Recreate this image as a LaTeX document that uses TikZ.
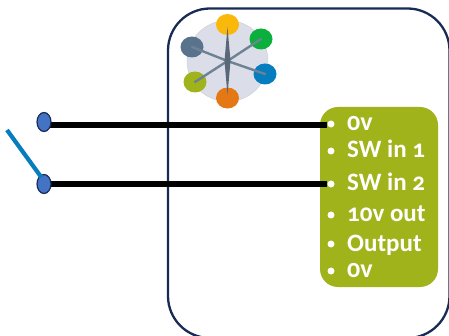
\documentclass[tikz,border=0pt]{standalone}
\usepackage{fontspec}
\setmainfont[Numbers=OldStyle]{Carlito}
\usetikzlibrary{shapes.geometric}
\definecolor{frame}{RGB}{23,43,84}
\definecolor{panel}{RGB}{161,179,26}
\definecolor{termfill}{RGB}{68,114,196}
\definecolor{swblue}{RGB}{5,125,190}
\definecolor{hexfill}{RGB}{219,222,232}
\definecolor{spoke}{RGB}{110,130,150}
\tikzset{
  x=1pt,y=-1pt,
  pin/.style={circle,fill=white,inner sep=0pt,minimum size=7pt},
  pinlabel/.style={text=white,anchor=base west,inner sep=0pt},
  terminal/.style={ellipse,draw=frame,line width=1.2pt,fill=termfill,minimum width=14pt,minimum height=19pt,inner sep=0pt},
  wire/.style={line width=6pt,black},
  petal/.style={ellipse,minimum width=23pt,minimum height=21pt,inner sep=0pt},
  spokeline/.style={spoke,line width=2.4pt,line cap=round}
}
\begin{document}
\begin{tikzpicture}
\useasboundingbox (0,0) rectangle (449,336);
\begin{scope}
\clip (0,0) rectangle (449,336);
\draw[frame,line width=2.3pt,rounded corners=42pt] (168,8.5) rectangle (449.5,338);
\end{scope}
\draw[fill=panel,draw=none,rounded corners=18pt] (320,107) rectangle (438,287);
% logo
\node[circle,fill=hexfill,draw=white!80!black,line width=.4pt,minimum size=81pt,inner sep=0pt] (hub) at (227.5,61) {};
\node[petal,fill={rgb,255:red,250;green,185;blue,10}] (pa) at (227.5,24.5) {};
\node[petal,fill={rgb,255:red,10;green,175;blue,60}] (pb) at (261,39) {};
\node[petal,fill=swblue] (pc) at (265,74) {};
\node[petal,fill={rgb,255:red,228;green,120;blue,20}] (pd) at (227.5,98) {};
\node[petal,fill=panel] (pe) at (195,82) {};
\node[petal,fill={rgb,255:red,90;green,115;blue,140}] (pf) at (192,47) {};
\coordinate (hc) at (227.5,61);
\foreach \p in {pb,pc,pe,pf} \draw[spokeline] (hc) -- (\p.center);
\fill[spoke!80!black] (227.5,27) -- (230.5,61) -- (227.5,95) -- (224.5,61) -- cycle;
% pins
\node[pin] (p1) at (331,124) {};
\node[pin] (p2) at (331,151) {};
\node[pin] (p3) at (331,184) {};
\node[pin] (p4) at (331,215) {};
\node[pin] (p5) at (331,244) {};
\node[pin] (p6) at (331,271) {};
\node[pinlabel,font=\fontsize{26}{26}\selectfont\bfseries] (l1) at (347,130.7) {0v};
\node[pinlabel,font=\fontsize{25}{25}\selectfont\bfseries] (l2) at (347,158) {SW in 1};
\node[pinlabel,font=\fontsize{25}{25}\selectfont\bfseries] (l3) at (347,190.5) {SW in 2};
\node[pinlabel,font=\fontsize{25}{25}\selectfont\bfseries] (l4) at (347,221.7) {10v out};
\node[pinlabel,font=\fontsize{25}{25}\selectfont\bfseries] (l5) at (347,251.7) {Output};
\node[pinlabel,font=\fontsize{26}{26}\selectfont\bfseries] (l6) at (347,277) {0v};
% terminals and wires
\coordinate (w1) at (44,125);
\draw[wire] (w1) -- (p1.west |- w1);
\node[terminal] (t1) at (44,122) {};
\draw[wire] (44,184) -- (p3.west);
\node[terminal] (t2) at (44,184) {};
\coordinate (swfree) at (7,130);
\draw[swblue,line width=4.2pt] (swfree) -- (41.5,177.5);
\end{tikzpicture}
\end{document}
